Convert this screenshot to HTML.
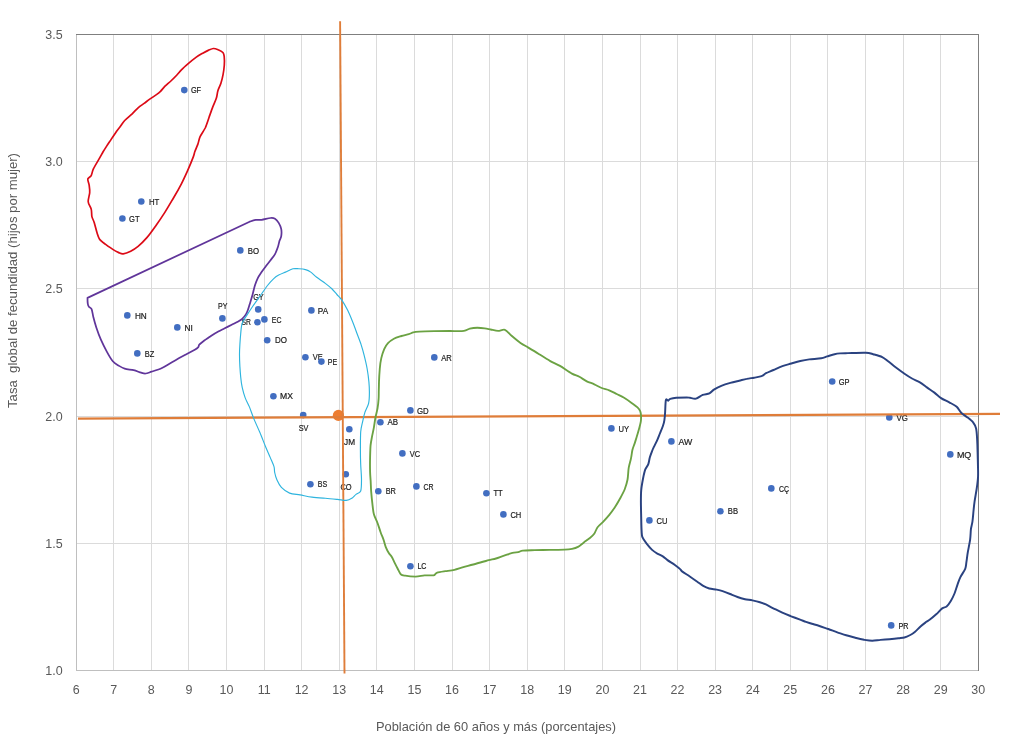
<!DOCTYPE html>
<html lang="es"><head><meta charset="utf-8"><title>Tasa global de fecundidad y población de 60 años y más</title>
<style>html,body{margin:0;padding:0;background:#fff}svg{display:block}text{font-family:"Liberation Sans",sans-serif}.t{font-size:12px;fill:#595959}.l{font-size:8.4px;fill:#1c1c1c;stroke:#1c1c1c;stroke-width:.2px}.c{fill:none;stroke-linejoin:round;stroke-linecap:round}</style></head><body>
<svg width="1018" height="751" viewBox="0 0 1018 751">
<rect width="1018" height="751" fill="#fff"/>
<path d="M113.5,35.0V670.0M151.5,35.0V670.0M188.5,35.0V670.0M226.5,35.0V670.0M264.5,35.0V670.0M301.5,35.0V670.0M339.5,35.0V670.0M376.5,35.0V670.0M414.5,35.0V670.0M452.5,35.0V670.0M489.5,35.0V670.0M527.5,35.0V670.0M564.5,35.0V670.0M602.5,35.0V670.0M640.5,35.0V670.0M677.5,35.0V670.0M715.5,35.0V670.0M752.5,35.0V670.0M790.5,35.0V670.0M827.5,35.0V670.0M865.5,35.0V670.0M903.5,35.0V670.0M940.5,35.0V670.0M77.0,161.5H978.0M77.0,288.5H978.0M77.0,416.5H978.0M77.0,543.5H978.0" stroke="#dbdbdb" stroke-width="1" fill="none" shape-rendering="crispEdges"/>
<path d="M76.5,34V670.5H978.5" stroke="#bfbfbf" stroke-width="1" fill="none" shape-rendering="crispEdges"/>
<path d="M76,34.5H978.5V671" stroke="#7f7f7f" stroke-width="1" fill="none" shape-rendering="crispEdges"/>
<g class="t">
<text transform="translate(76.1,694) scale(1.04,1)" text-anchor="middle">6</text>
<text transform="translate(113.7,694) scale(1.04,1)" text-anchor="middle">7</text>
<text transform="translate(151.3,694) scale(1.04,1)" text-anchor="middle">8</text>
<text transform="translate(188.9,694) scale(1.04,1)" text-anchor="middle">9</text>
<text transform="translate(226.5,694) scale(1.04,1)" text-anchor="middle">10</text>
<text transform="translate(264.1,694) scale(1.04,1)" text-anchor="middle">11</text>
<text transform="translate(301.6,694) scale(1.04,1)" text-anchor="middle">12</text>
<text transform="translate(339.2,694) scale(1.04,1)" text-anchor="middle">13</text>
<text transform="translate(376.8,694) scale(1.04,1)" text-anchor="middle">14</text>
<text transform="translate(414.4,694) scale(1.04,1)" text-anchor="middle">15</text>
<text transform="translate(452.0,694) scale(1.04,1)" text-anchor="middle">16</text>
<text transform="translate(489.6,694) scale(1.04,1)" text-anchor="middle">17</text>
<text transform="translate(527.2,694) scale(1.04,1)" text-anchor="middle">18</text>
<text transform="translate(564.8,694) scale(1.04,1)" text-anchor="middle">19</text>
<text transform="translate(602.4,694) scale(1.04,1)" text-anchor="middle">20</text>
<text transform="translate(640.0,694) scale(1.04,1)" text-anchor="middle">21</text>
<text transform="translate(677.5,694) scale(1.04,1)" text-anchor="middle">22</text>
<text transform="translate(715.1,694) scale(1.04,1)" text-anchor="middle">23</text>
<text transform="translate(752.7,694) scale(1.04,1)" text-anchor="middle">24</text>
<text transform="translate(790.3,694) scale(1.04,1)" text-anchor="middle">25</text>
<text transform="translate(827.9,694) scale(1.04,1)" text-anchor="middle">26</text>
<text transform="translate(865.5,694) scale(1.04,1)" text-anchor="middle">27</text>
<text transform="translate(903.1,694) scale(1.04,1)" text-anchor="middle">28</text>
<text transform="translate(940.7,694) scale(1.04,1)" text-anchor="middle">29</text>
<text transform="translate(978.3,694) scale(1.04,1)" text-anchor="middle">30</text>
<text transform="translate(62.6,675) scale(1.04,1)" text-anchor="end">1.0</text>
<text transform="translate(62.6,548) scale(1.04,1)" text-anchor="end">1.5</text>
<text transform="translate(62.6,421) scale(1.04,1)" text-anchor="end">2.0</text>
<text transform="translate(62.6,293) scale(1.04,1)" text-anchor="end">2.5</text>
<text transform="translate(62.6,166) scale(1.04,1)" text-anchor="end">3.0</text>
<text transform="translate(62.6,39) scale(1.04,1)" text-anchor="end">3.5</text>
<text style="font-size:13px" x="496" y="730.5" text-anchor="middle" textLength="240" lengthAdjust="spacingAndGlyphs">Población de 60 años y más (porcentajes)</text>
<text transform="translate(17.3,280.5) rotate(-90)" text-anchor="middle" textLength="255" lengthAdjust="spacingAndGlyphs" style="font-size:13px;white-space:pre">Tasa  global de fecundidad (hijos por mujer)</text>
</g>
<g class="l">
<circle cx="184.3" cy="90.1" r="3.3" fill="#426ec1" stroke="none"/>
<text x="190.9" y="93" textLength="10.2" lengthAdjust="spacingAndGlyphs">GF</text>
<circle cx="141.3" cy="201.5" r="3.3" fill="#426ec1" stroke="none"/>
<text x="148.9" y="205" textLength="10.4" lengthAdjust="spacingAndGlyphs">HT</text>
<circle cx="122.4" cy="218.5" r="3.3" fill="#426ec1" stroke="none"/>
<text x="129.0" y="222" textLength="10.5" lengthAdjust="spacingAndGlyphs">GT</text>
<circle cx="240.3" cy="250.4" r="3.3" fill="#426ec1" stroke="none"/>
<text x="247.7" y="254" textLength="11.3" lengthAdjust="spacingAndGlyphs">BO</text>
<circle cx="127.3" cy="315.4" r="3.3" fill="#426ec1" stroke="none"/>
<text x="134.9" y="319" textLength="11.9" lengthAdjust="spacingAndGlyphs">HN</text>
<circle cx="177.3" cy="327.4" r="3.3" fill="#426ec1" stroke="none"/>
<text x="184.4" y="331" textLength="8.4" lengthAdjust="spacingAndGlyphs">NI</text>
<circle cx="222.4" cy="318.4" r="3.3" fill="#426ec1" stroke="none"/>
<text x="218.0" y="309" textLength="9.4" lengthAdjust="spacingAndGlyphs">PY</text>
<circle cx="137.3" cy="353.4" r="3.3" fill="#426ec1" stroke="none"/>
<text x="144.8" y="357" textLength="9.5" lengthAdjust="spacingAndGlyphs">BZ</text>
<circle cx="258.2" cy="309.4" r="3.3" fill="#426ec1" stroke="none"/>
<text x="253.2" y="300" textLength="10.5" lengthAdjust="spacingAndGlyphs">GY</text>
<circle cx="257.4" cy="322.3" r="3.3" fill="#426ec1" stroke="none"/>
<text x="241.4" y="325" textLength="9.4" lengthAdjust="spacingAndGlyphs">SR</text>
<circle cx="264.4" cy="319.4" r="3.3" fill="#426ec1" stroke="none"/>
<text x="271.8" y="323" textLength="9.6" lengthAdjust="spacingAndGlyphs">EC</text>
<circle cx="311.4" cy="310.4" r="3.3" fill="#426ec1" stroke="none"/>
<text x="317.8" y="314" textLength="10.3" lengthAdjust="spacingAndGlyphs">PA</text>
<circle cx="267.2" cy="340.3" r="3.3" fill="#426ec1" stroke="none"/>
<text x="275.0" y="343" textLength="12.0" lengthAdjust="spacingAndGlyphs">DO</text>
<circle cx="305.4" cy="357.3" r="3.3" fill="#426ec1" stroke="none"/>
<text x="312.8" y="360" textLength="9.9" lengthAdjust="spacingAndGlyphs">VE</text>
<circle cx="321.4" cy="361.6" r="3.3" fill="#426ec1" stroke="none"/>
<text x="327.8" y="365" textLength="9.4" lengthAdjust="spacingAndGlyphs">PE</text>
<circle cx="273.4" cy="396.3" r="3.3" fill="#426ec1" stroke="none"/>
<text x="280.0" y="399" textLength="12.9" lengthAdjust="spacingAndGlyphs">MX</text>
<circle cx="303.2" cy="415.1" r="3.3" fill="#426ec1" stroke="none"/>
<text x="298.7" y="431" textLength="9.7" lengthAdjust="spacingAndGlyphs">SV</text>
<circle cx="349.3" cy="429.3" r="3.3" fill="#426ec1" stroke="none"/>
<text x="344.1" y="445" textLength="11.0" lengthAdjust="spacingAndGlyphs">JM</text>
<circle cx="380.4" cy="422.3" r="3.3" fill="#426ec1" stroke="none"/>
<text x="387.4" y="425" textLength="10.6" lengthAdjust="spacingAndGlyphs">AB</text>
<circle cx="310.4" cy="484.3" r="3.3" fill="#426ec1" stroke="none"/>
<text x="317.8" y="487" textLength="9.4" lengthAdjust="spacingAndGlyphs">BS</text>
<circle cx="345.8" cy="474.3" r="3.3" fill="#426ec1" stroke="none"/>
<text x="340.4" y="490" textLength="11.2" lengthAdjust="spacingAndGlyphs">CO</text>
<circle cx="378.3" cy="491.3" r="3.3" fill="#426ec1" stroke="none"/>
<text x="385.7" y="494" textLength="10.2" lengthAdjust="spacingAndGlyphs">BR</text>
<circle cx="434.3" cy="357.4" r="3.3" fill="#426ec1" stroke="none"/>
<text x="441.3" y="361" textLength="10.5" lengthAdjust="spacingAndGlyphs">AR</text>
<circle cx="410.4" cy="410.4" r="3.3" fill="#426ec1" stroke="none"/>
<text x="417.0" y="414" textLength="11.7" lengthAdjust="spacingAndGlyphs">GD</text>
<circle cx="402.4" cy="453.4" r="3.3" fill="#426ec1" stroke="none"/>
<text x="409.8" y="457" textLength="10.3" lengthAdjust="spacingAndGlyphs">VC</text>
<circle cx="416.4" cy="486.4" r="3.3" fill="#426ec1" stroke="none"/>
<text x="423.4" y="490" textLength="10.1" lengthAdjust="spacingAndGlyphs">CR</text>
<circle cx="486.4" cy="493.2" r="3.3" fill="#426ec1" stroke="none"/>
<text x="493.4" y="496" textLength="9.2" lengthAdjust="spacingAndGlyphs">TT</text>
<circle cx="503.4" cy="514.4" r="3.3" fill="#426ec1" stroke="none"/>
<text x="510.4" y="518" textLength="10.9" lengthAdjust="spacingAndGlyphs">CH</text>
<circle cx="410.4" cy="566.2" r="3.3" fill="#426ec1" stroke="none"/>
<text x="417.4" y="569" textLength="9.0" lengthAdjust="spacingAndGlyphs">LC</text>
<circle cx="611.4" cy="428.4" r="3.3" fill="#426ec1" stroke="none"/>
<text x="618.4" y="432" textLength="10.6" lengthAdjust="spacingAndGlyphs">UY</text>
<circle cx="671.4" cy="441.4" r="3.3" fill="#426ec1" stroke="none"/>
<text x="678.4" y="445" textLength="13.8" lengthAdjust="spacingAndGlyphs">AW</text>
<circle cx="649.4" cy="520.4" r="3.3" fill="#426ec1" stroke="none"/>
<text x="656.4" y="524" textLength="11.0" lengthAdjust="spacingAndGlyphs">CU</text>
<circle cx="832.2" cy="381.5" r="3.3" fill="#426ec1" stroke="none"/>
<text x="838.8" y="385" textLength="10.8" lengthAdjust="spacingAndGlyphs">GP</text>
<circle cx="889.3" cy="417.4" r="3.3" fill="#426ec1" stroke="none"/>
<text x="896.6" y="421" textLength="11.3" lengthAdjust="spacingAndGlyphs">VG</text>
<circle cx="950.3" cy="454.4" r="3.3" fill="#426ec1" stroke="none"/>
<text x="956.9" y="458" textLength="14.4" lengthAdjust="spacingAndGlyphs">MQ</text>
<circle cx="891.2" cy="625.4" r="3.3" fill="#426ec1" stroke="none"/>
<text x="898.5" y="629" textLength="10.0" lengthAdjust="spacingAndGlyphs">PR</text>
<circle cx="720.4" cy="511.2" r="3.3" fill="#426ec1" stroke="none"/>
<text x="727.8" y="514" textLength="10.2" lengthAdjust="spacingAndGlyphs">BB</text>
<circle cx="771.3" cy="488.4" r="3.3" fill="#426ec1" stroke="none"/>
<text x="779.1" y="492" textLength="10.0" lengthAdjust="spacingAndGlyphs">CÇ</text>
</g>
<circle cx="338.4" cy="415.4" r="5.6" fill="#ed7d31"/>
<path d="M78,418.55L1000,413.95" stroke="#df7d39" stroke-width="2.3" fill="none"/>
<path d="M340.1,21.2L344.5,673.5" stroke="#df7d39" stroke-width="1.9" fill="none"/>
<path class="c" d="M213.4,48.5C215.0,48.4 217.2,49.4 218.7,50.0C220.2,50.6 222.3,51.7 223.1,52.7C223.9,53.7 224.0,54.5 224.2,56.4C224.4,58.3 224.5,62.6 224.3,65.3C224.1,68.0 223.6,71.6 223.1,74.3C222.6,77.0 221.7,80.7 220.9,83.2C220.1,85.7 218.6,88.5 217.9,90.7C217.2,92.9 217.2,95.6 216.4,98.1C215.6,100.6 213.8,104.2 212.7,107.1C211.6,110.0 210.1,114.4 209.0,117.5C207.9,120.6 206.5,125.1 205.2,128.0C203.8,130.9 201.1,134.4 200.0,136.9C198.9,139.4 198.6,142.2 197.8,144.4C197.0,146.6 195.5,149.9 194.8,151.8C194.1,153.7 194.4,154.0 193.3,156.9C192.2,159.8 189.2,167.1 187.4,171.1C185.6,175.1 183.4,179.9 181.4,183.8C179.4,187.7 176.4,193.0 173.9,197.2C171.4,201.4 167.7,207.9 165.0,212.1C162.3,216.3 158.7,221.7 156.0,225.5C153.3,229.3 149.8,234.3 147.1,237.4C144.4,240.5 140.6,244.3 138.1,246.4C135.6,248.5 132.9,250.1 130.7,251.2C128.5,252.3 125.0,253.6 123.2,253.8C121.4,254.0 120.4,253.3 118.8,252.6C117.2,251.9 114.8,250.7 112.8,249.4C110.8,248.1 107.3,245.8 105.3,244.2C103.3,242.6 100.6,240.6 99.4,238.9C98.2,237.2 97.9,235.5 97.1,233.0C96.3,230.5 95.0,225.0 94.2,222.5C93.4,220.0 92.4,218.6 91.9,216.6C91.5,214.6 91.8,211.3 91.2,209.1C90.6,206.9 88.4,204.2 88.2,201.7C88.0,199.2 89.5,195.2 89.7,192.7C89.9,190.2 89.5,187.4 89.2,185.3C88.9,183.2 87.5,180.5 87.8,179.0C88.1,177.5 90.4,177.1 91.2,175.6C92.0,174.1 92.2,171.5 93.4,168.9C94.6,166.3 97.9,161.0 99.4,158.4C100.9,155.8 102.0,153.7 103.1,151.8C104.2,149.9 105.6,147.8 106.8,145.9C108.0,144.0 110.0,141.1 111.3,139.1C112.6,137.1 114.5,134.3 115.8,132.4C117.1,130.5 119.0,128.3 120.3,126.5C121.6,124.7 122.9,122.4 124.7,120.5C126.5,118.6 130.2,115.7 132.2,113.8C134.2,111.9 136.3,109.4 138.1,107.8C139.9,106.2 142.3,104.7 144.1,103.4C145.9,102.1 148.2,100.2 150.1,98.9C152.0,97.6 155.2,95.5 156.8,94.4C158.4,93.3 159.3,92.6 160.5,91.4C161.7,90.2 163.4,87.8 165.0,86.2C166.6,84.6 169.1,82.7 170.9,81.0C172.7,79.3 175.3,76.7 176.9,75.0C178.5,73.3 179.6,71.6 181.4,69.8C183.2,68.0 186.6,65.0 188.8,63.1C191.0,61.2 194.3,58.6 196.3,57.1C198.3,55.6 200.5,54.4 202.3,53.4C204.1,52.4 206.5,51.1 208.2,50.4C209.9,49.7 211.8,48.6 213.4,48.5Z" stroke="#dc0a16" stroke-width="1.7"/>
<path class="c" d="M249.6,221.7C250.5,221.4 253.8,220.2 255.6,219.9C257.4,219.6 259.4,220.2 261.6,219.9C263.8,219.6 268.5,218.2 270.5,218.0C272.5,217.8 273.8,218.0 275.0,218.7C276.2,219.4 277.8,221.4 278.7,222.9C279.6,224.4 280.8,226.9 281.2,228.9C281.6,230.9 281.5,234.5 281.2,236.3C280.9,238.1 280.0,239.2 279.5,240.8C279.0,242.4 278.7,244.7 278.0,246.7C277.3,248.7 276.1,252.2 275.0,254.2C273.9,256.2 271.9,258.4 270.5,260.2C269.1,262.0 267.3,264.3 266.0,266.1C264.7,267.9 262.8,270.3 261.6,272.1C260.4,273.9 258.8,276.1 257.8,278.1C256.8,280.1 255.7,283.0 254.9,285.5C254.1,288.0 253.3,292.0 252.6,294.5C251.9,297.0 251.1,299.7 250.4,301.9C249.7,304.1 248.8,307.5 248.1,309.4C247.4,311.3 246.8,313.0 245.9,314.4C245.0,315.8 243.4,317.8 242.2,318.9C241.0,320.0 239.3,320.9 237.7,321.8C236.1,322.7 233.7,323.8 231.7,324.8C229.7,325.8 226.3,327.5 224.3,328.5C222.3,329.5 220.3,330.4 218.3,331.5C216.3,332.6 213.1,334.5 210.9,336.0C208.7,337.5 205.1,339.9 203.4,341.2C201.7,342.5 200.1,343.8 199.3,344.7C198.5,345.6 199.0,346.3 198.3,347.1C197.6,347.9 196.9,348.6 194.8,349.8C192.7,351.0 187.8,353.5 184.4,355.3C181.0,357.1 175.8,360.1 172.4,362.0C169.0,363.9 165.1,366.5 162.0,368.0C158.9,369.5 154.1,370.9 151.6,371.7C149.1,372.5 147.2,373.4 145.6,373.5C144.0,373.6 142.9,373.2 141.1,372.7C139.3,372.2 136.2,370.8 133.7,370.2C131.2,369.6 126.9,369.4 124.7,368.7C122.5,368.0 120.6,366.8 118.8,365.7C117.0,364.6 114.6,363.4 112.8,361.3C111.0,359.2 108.6,354.9 106.8,351.6C105.0,348.3 102.5,343.2 100.9,339.6C99.3,336.0 97.5,331.0 96.4,327.7C95.3,324.4 94.1,320.1 93.4,317.3C92.7,314.5 92.3,310.7 91.6,309.1C90.9,307.5 89.5,307.6 88.9,306.8C88.3,306.0 88.0,305.2 87.8,303.9C87.6,302.6 87.5,298.8 87.5,297.9Z" stroke="#60359a" stroke-width="1.75"/>
<path class="c" d="M292.9,268.8C294.9,268.3 296.9,268.7 298.8,268.8C300.7,268.9 303.7,269.1 305.5,269.6C307.3,270.1 309.1,270.9 310.8,272.1C312.5,273.3 314.7,275.7 316.7,277.3C318.7,278.9 322.0,280.8 324.2,282.5C326.4,284.2 329.7,286.7 331.6,288.5C333.5,290.3 335.4,292.8 336.9,294.5C338.4,296.2 340.1,297.5 341.7,299.9C343.3,302.3 346.1,307.2 347.7,310.3C349.3,313.4 350.8,317.4 352.2,320.8C353.6,324.2 355.4,329.1 356.7,332.7C358.0,336.3 360.0,341.2 361.1,344.6C362.2,348.0 363.2,351.5 364.1,355.1C365.0,358.7 366.4,364.5 367.1,368.5C367.8,372.5 368.6,378.4 368.9,381.9C369.2,385.4 369.4,388.8 369.4,392.0C369.4,395.2 369.3,400.3 368.6,403.4C367.9,406.5 365.8,409.7 364.9,412.4C364.0,415.1 363.3,418.4 362.7,421.3C362.1,424.2 361.0,427.5 360.7,431.7C360.4,435.9 360.4,444.7 360.4,449.6C360.4,454.5 360.5,460.0 360.7,464.5C360.9,469.0 361.5,475.5 361.5,479.5C361.5,483.5 361.5,488.8 360.7,491.0C359.9,493.2 357.3,493.4 356.0,494.4C354.7,495.4 353.8,497.0 352.3,497.9C350.8,498.8 348.5,500.2 346.3,500.4C344.1,500.6 340.5,499.7 337.4,499.4C334.3,499.1 329.2,498.6 325.4,498.3C321.6,498.0 315.8,497.6 312.0,497.1C308.2,496.6 303.5,495.5 300.1,494.9C296.7,494.3 292.4,494.2 289.6,493.1C286.8,492.0 283.3,489.4 281.4,487.4C279.5,485.4 278.0,482.2 277.0,480.0C276.0,477.8 275.1,474.5 274.7,472.5C274.2,470.5 274.7,468.8 274.0,466.6C273.3,464.4 271.5,460.5 270.3,457.6C269.1,454.7 267.4,451.0 265.8,447.2C264.2,443.4 261.6,436.5 259.8,432.3C258.0,428.1 255.5,422.7 253.9,418.9C252.3,415.1 250.7,410.0 249.4,406.9C248.1,403.8 246.3,400.8 245.2,397.9C244.1,395.0 242.9,390.5 242.2,387.4C241.5,384.3 241.0,380.1 240.7,377.0C240.4,373.9 240.1,370.0 239.9,366.6C239.7,363.2 239.5,358.0 239.5,354.6C239.5,351.2 239.7,347.3 239.9,344.2C240.1,341.1 240.4,336.9 240.7,333.8C241.0,330.7 241.2,326.2 242.2,323.3C243.2,320.4 245.8,316.9 247.4,314.4C249.0,311.9 250.7,309.3 252.6,306.5C254.5,303.7 257.9,299.1 260.1,296.0C262.3,292.9 265.5,288.1 267.5,285.5C269.5,282.9 271.8,280.4 273.5,278.8C275.2,277.2 276.9,276.1 278.7,275.1C280.5,274.1 283.3,273.0 285.4,272.1C287.5,271.2 290.9,269.3 292.9,268.8Z" stroke="#2eb4de" stroke-width="1.15"/>
<path class="c" d="M370.1,457.1C370.2,453.1 370.3,448.3 370.6,445.2C370.9,442.1 371.6,438.9 372.1,436.2C372.6,433.5 373.4,430.2 373.9,427.3C374.4,424.4 375.0,419.7 375.6,416.8C376.2,413.9 377.2,410.6 377.6,407.9C378.1,405.2 378.4,401.6 378.6,398.9C378.8,396.2 378.7,392.6 378.8,390.0C378.9,387.4 378.9,385.1 379.0,381.9C379.1,378.7 379.5,372.1 379.8,368.5C380.1,364.9 380.6,361.0 381.3,358.1C382.0,355.2 383.2,351.4 384.2,349.1C385.2,346.9 386.5,344.7 388.0,343.1C389.5,341.5 391.9,339.8 393.9,338.7C395.9,337.6 399.2,336.7 401.4,336.0C403.6,335.3 407.0,334.7 408.8,334.2C410.6,333.7 411.7,332.8 413.3,332.4C414.9,332.0 416.2,331.9 419.3,331.7C422.4,331.5 429.6,331.3 434.2,331.2C438.8,331.1 445.5,331.0 450.0,331.0C454.5,331.0 460.9,331.3 463.9,330.9C466.9,330.5 467.8,329.1 469.8,328.6C471.8,328.1 475.1,327.7 477.3,327.7C479.5,327.7 482.7,328.0 484.7,328.3C486.7,328.6 488.7,329.1 490.7,329.5C492.7,329.9 496.0,330.9 498.1,330.9C500.2,330.9 502.9,329.1 504.9,329.8C506.9,330.5 509.3,333.8 511.6,335.8C513.9,337.8 518.0,341.2 520.5,342.9C523.0,344.6 525.3,345.8 528.0,347.4C530.7,349.0 535.1,351.6 538.4,353.7C541.7,355.8 547.1,359.3 550.3,361.1C553.5,362.9 556.8,364.0 560.0,365.9C563.2,367.8 569.0,372.0 571.9,373.6C574.8,375.2 577.2,375.6 579.4,376.8C581.6,378.0 584.6,380.2 586.8,381.3C589.0,382.4 592.1,383.3 594.3,384.3C596.5,385.3 599.5,387.1 601.7,388.0C603.9,388.9 607.0,389.4 609.2,390.3C611.5,391.2 614.5,392.9 616.7,394.0C618.9,395.1 621.9,396.4 624.1,397.7C626.3,399.0 629.6,401.4 631.6,402.9C633.6,404.4 636.2,406.2 637.5,407.4C638.8,408.6 639.7,409.9 640.2,411.1C640.7,412.3 640.9,414.0 641.0,415.6C641.1,417.2 641.1,419.6 640.8,421.6C640.5,423.6 639.6,426.8 639.0,429.0C638.4,431.2 637.5,434.3 636.8,436.5C636.1,438.7 635.2,441.9 634.5,443.9C633.8,445.9 632.9,447.8 632.4,450.0C631.9,452.2 631.5,456.2 630.9,458.9C630.3,461.6 629.2,464.8 628.7,467.9C628.2,471.0 628.1,476.7 627.5,479.8C626.9,482.9 625.9,486.1 624.9,488.8C623.9,491.5 622.0,495.0 620.5,497.7C619.0,500.4 616.9,504.1 615.2,506.7C613.5,509.3 611.1,512.7 609.3,514.9C607.5,517.1 605.1,519.7 603.3,521.6C601.5,523.5 598.7,525.7 597.4,527.5C596.1,529.3 595.5,531.9 594.4,533.5C593.3,535.1 591.5,536.7 589.9,538.0C588.3,539.3 585.7,541.1 583.9,542.4C582.1,543.7 579.8,545.9 578.0,546.9C576.2,547.9 574.0,548.5 572.0,548.9C570.0,549.3 567.9,549.5 564.5,549.6C561.1,549.8 554.1,549.8 549.6,549.9C545.1,550.0 538.7,550.1 534.7,550.2C530.7,550.3 525.3,550.3 522.8,550.6C520.3,550.9 519.9,551.8 518.3,552.1C516.7,552.4 514.6,552.3 512.4,552.9C510.2,553.5 505.9,555.1 503.4,555.9C500.9,556.7 498.2,557.9 496.0,558.5C493.8,559.1 491.6,559.5 488.7,560.2C485.8,561.0 480.5,562.5 476.7,563.5C472.9,564.5 466.6,566.3 463.3,567.2C460.0,568.1 457.1,569.2 454.4,569.8C451.7,570.4 448.0,570.8 445.4,571.2C442.8,571.6 438.9,572.1 437.2,572.7C435.5,573.3 435.0,574.7 434.2,575.1C433.4,575.5 433.5,575.4 432.0,575.4C430.5,575.4 427.0,575.2 424.5,575.4C422.0,575.6 418.5,576.6 415.6,576.6C412.7,576.6 407.4,576.1 405.2,575.7C403.0,575.3 401.8,575.2 400.7,574.2C399.6,573.2 398.6,570.4 397.7,568.7C396.8,567.0 395.6,564.6 394.7,562.8C393.8,561.0 392.6,558.3 391.7,556.8C390.8,555.3 389.7,554.6 388.8,553.1C387.9,551.6 386.6,549.1 385.8,547.1C385.0,545.1 384.3,541.8 383.5,539.6C382.7,537.4 381.5,534.7 380.6,532.2C379.7,529.7 378.6,525.9 377.6,523.2C376.6,520.5 374.7,517.2 373.9,514.3C373.1,511.4 372.8,507.3 372.4,503.9C372.0,500.5 371.5,495.5 371.2,491.9C370.9,488.3 370.8,483.0 370.6,480.0C370.4,477.0 370.2,475.4 370.1,472.0C370.0,468.6 370.0,461.1 370.1,457.1Z" stroke="#6ba243" stroke-width="1.85"/>
<path class="c" d="M665.9,399.9C666.4,398.1 667.4,400.9 668.1,400.7C668.8,400.5 669.1,399.2 670.3,398.8C671.5,398.4 673.8,397.9 676.3,397.7C678.8,397.5 684.6,397.4 686.7,397.4C688.8,397.4 688.6,397.6 690.0,397.8C691.4,398.0 694.1,399.0 696.0,398.6C697.9,398.2 700.7,395.7 702.7,394.9C704.7,394.1 707.7,394.2 709.4,393.4C711.1,392.6 712.1,390.7 713.9,389.6C715.7,388.5 718.8,386.9 721.3,385.9C723.8,384.9 727.6,383.7 730.3,382.9C733.0,382.1 736.7,381.3 739.2,380.7C741.7,380.1 744.5,379.3 746.7,378.9C748.9,378.4 751.9,378.1 754.1,377.7C756.3,377.3 759.8,376.9 761.6,376.2C763.4,375.5 764.2,374.1 766.0,373.2C767.8,372.3 771.0,371.1 773.5,370.0C776.0,368.9 779.7,367.1 782.4,366.1C785.1,365.1 788.7,364.3 791.4,363.5C794.1,362.7 797.6,361.6 800.3,361.0C803.0,360.4 806.2,359.8 809.3,359.4C812.4,359.0 818.5,358.8 821.2,358.3C823.9,357.9 825.2,357.0 827.2,356.4C829.2,355.8 832.7,354.6 834.6,354.2C836.5,353.8 838.0,353.6 840.0,353.4C842.0,353.2 844.0,353.2 847.9,353.1C851.8,353.0 862.0,352.5 865.8,352.7C869.6,352.9 870.7,353.5 873.2,354.2C875.7,354.9 880.0,356.0 882.2,357.1C884.4,358.2 886.1,359.8 888.1,361.3C890.1,362.8 893.1,365.4 895.6,367.3C898.1,369.2 902.0,372.0 904.5,373.7C907.0,375.4 909.8,377.2 912.0,378.5C914.2,379.8 917.3,380.9 919.5,382.2C921.7,383.5 924.7,385.8 926.9,387.4C929.1,389.0 932.3,391.0 934.4,392.6C936.5,394.2 938.9,396.6 941.1,398.1C943.3,399.6 947.0,401.0 949.3,402.3C951.6,403.6 954.9,405.2 956.7,406.8C958.5,408.4 959.6,411.2 961.2,412.8C962.8,414.4 965.4,415.8 967.2,417.2C969.0,418.6 971.8,420.7 973.1,422.4C974.4,424.1 975.5,425.9 976.1,428.4C976.7,430.9 976.9,435.2 977.1,438.8C977.3,442.4 977.5,448.0 977.6,452.2C977.7,456.4 977.9,463.3 978.0,467.1C978.1,470.9 978.2,474.4 978.0,477.5C977.8,480.6 977.3,484.4 976.8,488.0C976.3,491.6 975.1,497.9 974.6,501.4C974.1,504.8 973.8,507.9 973.5,511.0C973.2,514.1 972.8,519.1 972.4,521.9C972.0,524.7 971.2,526.7 970.9,529.4C970.6,532.1 970.6,536.5 970.1,539.8C969.6,543.1 968.5,548.3 967.9,551.7C967.3,555.1 966.8,559.6 966.4,562.2C966.0,564.8 966.1,566.7 965.2,568.9C964.3,571.1 961.6,574.7 960.4,577.1C959.2,579.5 958.4,582.1 957.5,584.6C956.6,587.1 955.5,591.0 954.5,593.5C953.5,596.0 952.0,599.0 950.8,601.0C949.6,603.0 947.9,605.4 946.6,606.5C945.3,607.6 943.8,607.2 942.2,608.4C940.6,609.6 938.1,612.6 936.2,614.3C934.3,616.0 931.1,618.7 929.6,619.8C928.1,620.9 927.7,620.8 926.4,621.8C925.1,622.8 922.5,624.7 920.8,626.2C919.1,627.7 916.4,630.7 914.8,632.0C913.2,633.3 911.9,634.2 910.3,635.0C908.7,635.8 906.2,637.0 904.4,637.5C902.6,638.0 900.6,638.0 898.4,638.3C896.2,638.6 892.2,639.0 889.5,639.2C886.8,639.4 883.1,639.7 880.5,639.9C877.9,640.1 874.8,640.7 872.3,640.7C869.8,640.7 866.7,640.2 864.1,639.8C861.5,639.3 857.9,638.4 855.2,637.7C852.5,637.0 848.9,636.1 846.2,635.3C843.5,634.5 840.0,633.2 837.3,632.3C834.6,631.4 831.0,629.9 828.3,629.0C825.6,628.1 821.9,626.8 819.4,626.0C816.9,625.2 813.9,624.4 811.9,623.8C809.9,623.2 807.8,622.5 806.0,621.9C804.2,621.3 802.3,620.4 800.1,619.6C797.9,618.8 793.9,617.3 791.2,616.3C788.5,615.2 785.0,613.8 782.3,612.6C779.6,611.4 775.8,609.5 773.3,608.3C770.8,607.1 767.9,605.3 765.9,604.4C763.9,603.5 761.9,602.9 759.9,602.3C757.9,601.7 754.6,600.9 752.4,600.4C750.2,599.9 747.2,599.7 745.0,599.2C742.8,598.7 739.7,597.8 737.5,597.0C735.3,596.2 732.3,594.9 730.1,594.0C727.9,593.1 724.6,591.8 722.6,591.1C720.6,590.4 718.7,590.0 716.7,589.6C714.7,589.2 711.2,589.1 709.2,588.5C707.2,587.9 705.0,586.9 703.2,585.9C701.4,584.9 699.3,583.1 697.3,581.7C695.3,580.3 692.0,578.0 689.8,576.5C687.6,575.0 683.9,572.7 682.4,571.6C680.9,570.5 681.2,570.1 680.1,569.1C679.0,568.1 676.8,566.4 674.9,565.0C673.0,563.6 669.3,561.4 667.5,560.1C665.7,558.8 664.7,557.6 663.2,556.6C661.7,555.6 659.0,554.6 657.3,553.6C655.6,552.6 653.7,551.4 652.1,549.9C650.5,548.4 648.3,545.8 646.8,543.9C645.3,542.0 643.2,539.2 642.4,537.2C641.6,535.2 641.8,533.5 641.6,530.5C641.4,527.5 641.3,521.3 641.2,517.1C641.1,512.9 640.9,506.2 640.9,502.2C640.9,498.2 640.9,493.9 641.2,490.3C641.5,486.7 642.5,481.4 643.1,478.3C643.7,475.2 644.5,471.5 645.3,469.4C646.1,467.3 647.6,466.0 648.3,464.2C649.0,462.4 649.2,459.6 649.8,457.5C650.4,455.4 651.9,451.6 652.5,450.0C653.1,448.4 653.2,448.3 653.9,446.9C654.6,445.5 656.0,442.9 656.9,440.9C657.8,438.9 659.0,435.7 659.9,433.5C660.8,431.3 662.2,428.0 662.9,426.0C663.6,424.0 664.1,422.1 664.4,420.1C664.7,418.1 664.9,415.6 665.1,412.6C665.3,409.6 665.4,401.7 665.9,399.9Z" stroke="#2a4280" stroke-width="1.95"/>
</svg></body></html>
